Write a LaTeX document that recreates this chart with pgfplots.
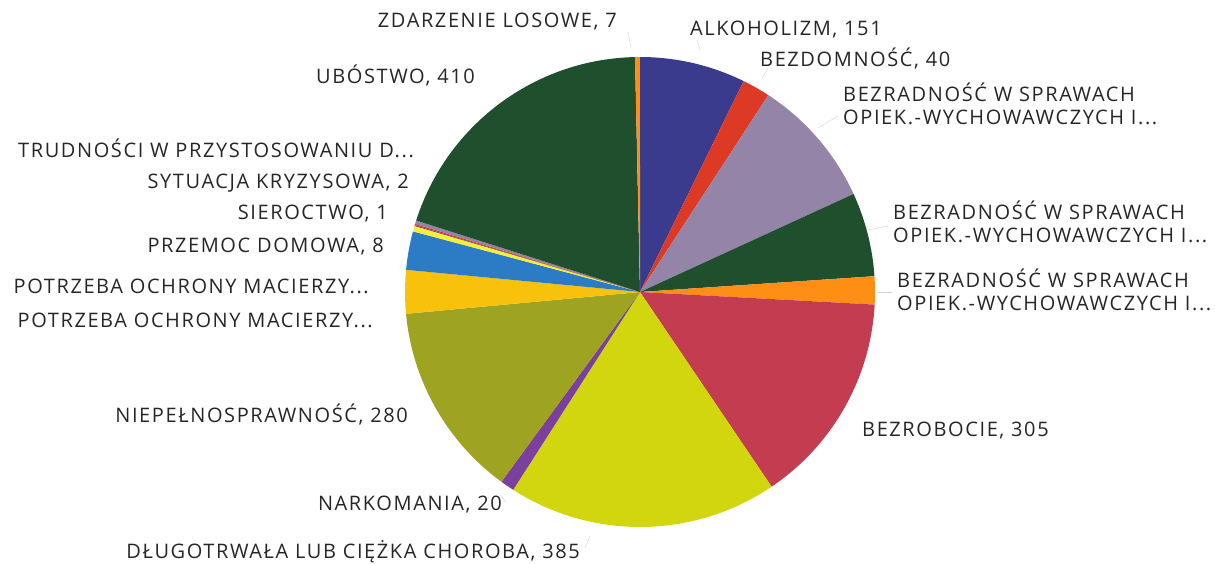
\documentclass[border=0pt]{standalone}
\usepackage{pgfplots}
\usepackage{pgfplotstable}
\pgfplotsset{compat=1.18}
\usepackage{fontspec}
\setmainfont{Open Sans}[LetterSpace=8]

\pgfplotstableread{
idx value
0 151
1 40
2 186
3 120
4 40
5 305
6 385
7 20
8 280
9 62
10 55
11 8
12 1
13 2
14 5
15 410
16 7
}\data
\pgfplotstablecreatecol[create col/expr accum={\pgfmathaccuma + \thisrow{value}}{0}]{cum}\data
\pgfplotstablegetelem{16}{cum}\of\data
\pgfmathsetmacro\total{\pgfplotsretval}
\pgfmathsetmacro\kfac{360/\total}

\definecolor{c0}{HTML}{3B3B8E}
\definecolor{c1}{HTML}{DD3A26}
\definecolor{c2}{HTML}{9484A8}
\definecolor{c3}{HTML}{1F4F2C}
\definecolor{c4}{HTML}{FF8E14}
\definecolor{c5}{HTML}{C43C50}
\definecolor{c6}{HTML}{D2D60E}
\definecolor{c7}{HTML}{7B3F9E}
\definecolor{c8}{HTML}{9EA321}
\definecolor{c9}{HTML}{F7C10C}
\definecolor{c10}{HTML}{2B7CC4}
\definecolor{c11}{HTML}{F5EF3A}
\definecolor{c12}{HTML}{3B3B8E}
\definecolor{c13}{HTML}{DD3A26}
\definecolor{c14}{HTML}{9484A8}
\definecolor{c15}{HTML}{1F4F2C}
\definecolor{c16}{HTML}{FF8E14}

\begin{document}
\begin{tikzpicture}
\useasboundingbox (0,0) rectangle (1215pt,564pt);
\begin{axis}[
  at={(0,0)}, anchor=south west,
  scale only axis, width=1215pt, height=564pt,
  xmin=0, xmax=1215, ymin=0, ymax=564, y dir=reverse,
  hide axis, clip=false,
]
\pgfplotsinvokeforeach{0,...,16}{
  \pgfplotstablegetelem{#1}{cum}\of\data
  \pgfmathsetmacro\bb{\pgfplotsretval}
  \pgfplotstablegetelem{#1}{value}\of\data
  \pgfmathsetmacro\aa{\bb-\pgfplotsretval}
  \pgfmathsetmacro\sa{90-\kfac*\aa}
  \pgfmathsetmacro\ea{90-\kfac*\bb}
  \edef\slice{\noexpand\fill[c#1] (axis cs:640,292) -- ++(\sa:235pt) arc[start angle=\sa, end angle=\ea, radius=235pt] -- cycle;}
  \slice
}
% faint leader lines
\draw[black!18, line width=0.4pt] (axis cs:818,128) -- (axis cs:838,116);
\draw[black!18, line width=0.4pt] (axis cs:868,230) -- (axis cs:888,226);
\draw[black!18, line width=0.4pt] (axis cs:878,292) -- (axis cs:892,292);
\draw[black!18, line width=0.4pt] (axis cs:762,78) -- (axis cs:768,68);
\draw[black!18, line width=0.4pt] (axis cs:700,50) -- (axis cs:697,40);
\draw[black!18, line width=0.4pt] (axis cs:631,48) -- (axis cs:628,32);
\draw[black!18, line width=0.4pt] (axis cs:590,536) -- (axis cs:585,548);
\draw[black!18, line width=0.4pt] (axis cs:500,495) -- (axis cs:506,502);
\tikzset{lab/.style={inner sep=0pt, font=\fontsize{20}{23}\selectfont, text=black!85}}
\node[lab, anchor=east] at (axis cs:617,22) {ZDARZENIE LOSOWE, 7};
\node[lab, anchor=west] at (axis cs:690,30) {ALKOHOLIZM, 151};
\node[lab, anchor=west] at (axis cs:760,58) {BEZDOMNOŚĆ, 40};
\node[lab, anchor=west, align=left] at (axis cs:843,104) {BEZRADNOŚĆ W SPRAWACH\\OPIEK.-WYCHOWAWCZYCH I...};
\node[lab, anchor=west, align=left] at (axis cs:893,222) {BEZRADNOŚĆ W SPRAWACH\\OPIEK.-WYCHOWAWCZYCH I...};
\node[lab, anchor=west, align=left] at (axis cs:897,290) {BEZRADNOŚĆ W SPRAWACH\\OPIEK.-WYCHOWAWCZYCH I...};
\node[lab, anchor=west] at (axis cs:862,431) {BEZROBOCIE, 305};
\node[lab, anchor=east] at (axis cs:580,552) {DŁUGOTRWAŁA LUB CIĘŻKA CHOROBA, 385};
\node[lab, anchor=east] at (axis cs:502,505) {NARKOMANIA, 20};
\node[lab, anchor=east] at (axis cs:408,414) {NIEPEŁNOSPRAWNOŚĆ, 280};
\node[lab, anchor=east] at (axis cs:369,286) {POTRZEBA OCHRONY MACIERZY...};
\node[lab, anchor=east] at (axis cs:373,320) {POTRZEBA OCHRONY MACIERZY...};
\node[lab, anchor=east] at (axis cs:384,247) {PRZEMOC DOMOWA, 8};
\node[lab, anchor=east] at (axis cs:388,214) {SIEROCTWO, 1};
\node[lab, anchor=east] at (axis cs:409,183) {SYTUACJA KRYZYSOWA, 2};
\node[lab, anchor=east] at (axis cs:414,148) {TRUDNOŚCI W PRZYSTOSOWANIU D...};
\node[lab, anchor=east] at (axis cs:475,75) {UBÓSTWO, 410};
\end{axis}
\end{tikzpicture}
\end{document}
